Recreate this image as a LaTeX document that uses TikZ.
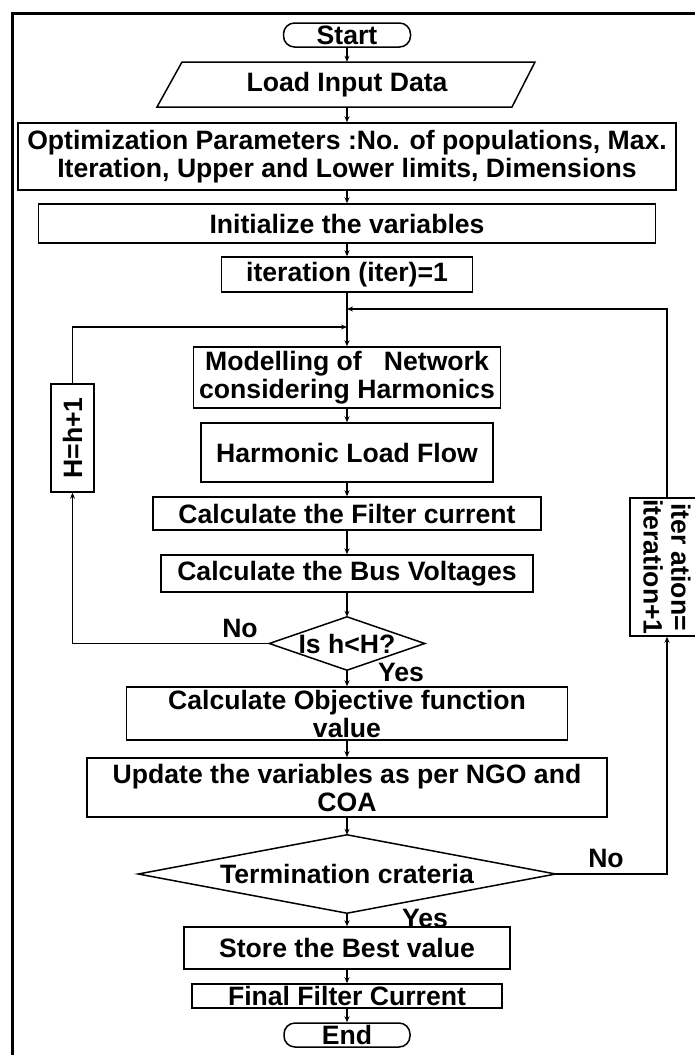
\documentclass[tikz,border=0pt]{standalone}
\usepackage{fontspec}
\setmainfont{Liberation Sans}
\usetikzlibrary{arrows.meta}
\newcommand{\flfont}{\fontsize{26.6}{28}\selectfont\bfseries}
\begin{document}
\begin{tikzpicture}[x=1pt,y=-1pt,
  box/.style={draw, line width=1.5pt, inner sep=0pt, align=center, font=\flfont},
  txt/.style={inner sep=0pt, align=center, font=\flfont},
  term/.style={box, rounded corners=11pt},
  shp/.style={line width=1.5pt},
  arr/.style={line width=1.2pt, -{Stealth[length=6pt,width=5pt]}},
  ln/.style={line width=1.2pt}]
\useasboundingbox (0,0) rectangle (695,1055);
\clip (0,0) rectangle (695,1055);
% frame
\draw[line width=3pt] (12.5,1060) -- (12.5,13) -- (700,13);
% nodes
\node[term, minimum width=127pt, minimum height=24pt] (start) at (347,35) {Start};
\draw[shp] (157,107) -- (182,62) -- (535,62) -- (512,107) -- cycle;
\node[txt, minimum width=330pt, minimum height=45pt] (load) at (347,84.5) {Load Input Data};
\node[box, minimum width=658pt, minimum height=67pt] (opt) at (347,156.5) {Optimization Parameters :No. of populations, Max.\\Iteration, Upper and Lower limits, Dimensions};
\node[box, minimum width=617pt, minimum height=39pt] (init) at (347,223.5) {Initialize the variables};
\node[box, minimum width=251pt, minimum height=35pt] (iter1) at (347,274.5) {iteration (iter)=1};
\coordinate (j2) at (347,309);
\coordinate (j1) at (347,327);
\node[box, minimum width=307pt, minimum height=61pt] (model) at (347,377.5) {Modelling of\ \ \ Network\\considering Harmonics};
\node[box, minimum width=292pt, minimum height=59pt] (hlf) at (347,452.5) {Harmonic Load Flow};
\node[box, minimum width=388pt, minimum height=33pt] (filt) at (347,513.5) {Calculate the Filter current};
\node[box, minimum width=372pt, minimum height=37pt] (bus) at (347,573.5) {Calculate the Bus Voltages};
\node[txt, minimum width=155pt, minimum height=53pt] (dia1) at (347,643.5) {Is h<H?};
\draw[shp] (dia1.north) -- (dia1.east) -- (dia1.south) -- (dia1.west) -- cycle;
\node[box, minimum width=441pt, minimum height=53pt] (obj) at (347,713.5) {Calculate Objective function\\value};
\node[box, minimum width=520pt, minimum height=59pt] (upd) at (347,787.5) {Update the variables as per NGO and\\COA};
\node[txt, minimum width=417pt, minimum height=78pt] (dia2) at (347,874) {Termination crateria};
\draw[shp] (dia2.north) -- (dia2.east) -- (dia2.south) -- (dia2.west) -- cycle;
\node[box, minimum width=326pt, minimum height=42pt] (store) at (347,948) {Store the Best value};
\node[box, minimum width=310pt, minimum height=24pt] (final) at (347,996) {Final Filter Current};
\node[term, minimum width=126pt, minimum height=24pt] (end) at (347,1035) {End};
\node[box, rotate=90, minimum width=108pt, minimum height=43pt] (hbox) at (72.5,438) {H=h+1};
\node[box, rotate=-90, minimum width=138pt, minimum height=74pt] (itbox) at (667,567) {iter ation=\\iteration+1};
% labels
\node[txt] (no1) at (240,628) {No};
\node[txt] (yes1) at (401,672) {Yes};
\node[txt] (no2) at (606,858) {No};
\node[txt] (yes2) at (425,918) {Yes};
% connectors
\draw[arr] (start.south) -- (load.north);
\draw[arr] (load.south) -- (opt.north);
\draw[arr] (opt.south) -- (init.north);
\draw[arr] (init.south) -- (iter1.north);
\draw[arr] (iter1.south) -- (model.north);
\draw[arr] (model.south) -- (hlf.north);
\draw[arr] (hlf.south) -- (filt.north);
\draw[arr] (filt.south) -- (bus.north);
\draw[arr] (bus.south) -- (dia1.north);
\draw[arr] (dia1.south) -- (obj.north);
\draw[arr] (obj.south) -- (upd.north);
\draw[arr] (upd.south) -- (dia2.north);
\draw[arr] (dia2.south) -- (store.north);
\draw[arr] (store.south) -- (final.north);
\draw[arr] (final.south) -- (end.north);
\draw[arr] (dia1.west) -| (hbox.west);
\draw[arr] (hbox.east) |- (j1);
\draw[arr] (dia2.east) -| (itbox.east);
\draw[arr] (itbox.west) |- (j2);
\end{tikzpicture}
\end{document}
